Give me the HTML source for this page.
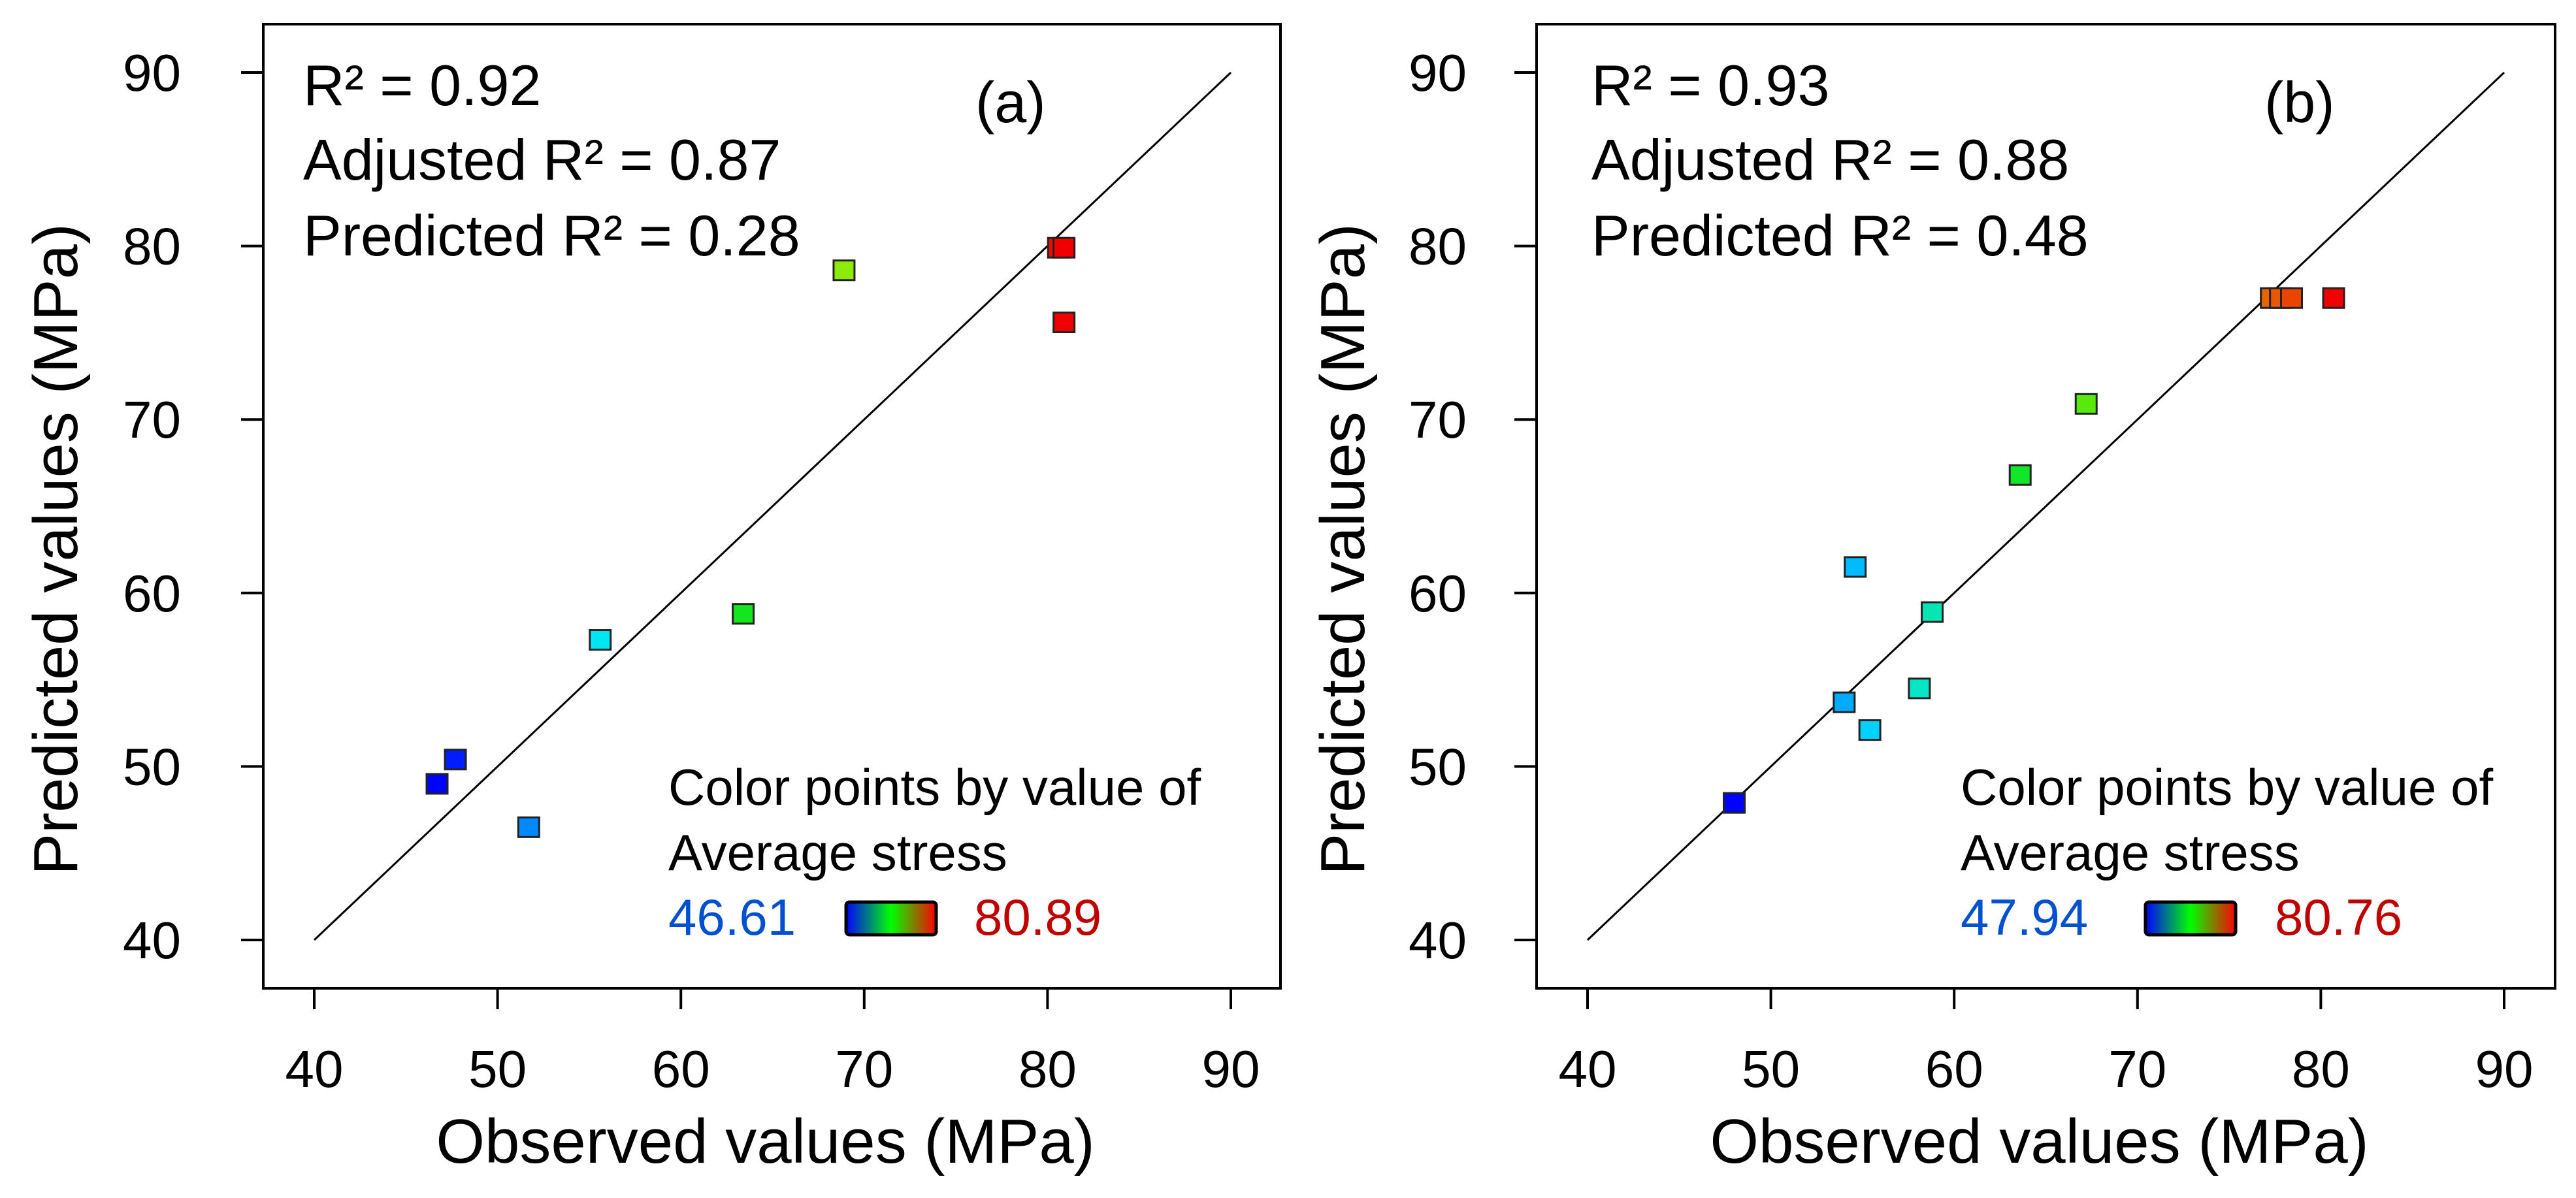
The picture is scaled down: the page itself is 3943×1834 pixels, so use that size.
<!DOCTYPE html>
<html><head><meta charset="utf-8"><style>
html,body{margin:0;padding:0;background:#fff;}
svg{display:block;font-family:"Liberation Sans",sans-serif;}
</style></head><body>
<svg id="chart" width="3943" height="1834" viewBox="0 0 3943 1834" xmlns="http://www.w3.org/2000/svg">
<defs>
<linearGradient id="cb" x1="0" x2="1" y1="0" y2="0">
<stop offset="0" stop-color="#0000ff"/><stop offset="0.5" stop-color="#00ff00"/><stop offset="1" stop-color="#ff0000"/>
</linearGradient>
</defs>
</svg>
<script>
const ticks = [40, 50, 60, 70, 80, 90];
const obsA = [46.7, 47.7, 51.7, 55.6, 63.4, 68.9, 80.6, 80.9, 80.9];
const predA = [49.0, 50.4, 46.5, 57.3, 58.8, 78.6, 79.9, 79.9, 75.6];
const obsB = [48.0, 54.0, 54.6, 55.4, 58.1, 58.8, 63.6, 67.2, 77.3, 77.8, 78.4, 80.7];
const predB = [47.9, 53.7, 61.5, 52.1, 54.5, 58.9, 66.8, 70.9, 77.0, 77.0, 77.0, 77.0];
const statsA = ["R\u00B2 = 0.92", "Adjusted R\u00B2 = 0.87", "Predicted R\u00B2 = 0.28"];
const statsB = ["R\u00B2 = 0.93", "Adjusted R\u00B2 = 0.88", "Predicted R\u00B2 = 0.48"];
const rangeA = [46.61, 80.89];
const rangeB = [47.94, 80.76];

const NS = "http://www.w3.org/2000/svg";
const svg = document.getElementById('chart');
function mk(tag, attrs, parent, text){
  const e = document.createElementNS(NS, tag);
  for (const k in attrs) e.setAttribute(k, attrs[k]);
  if (text !== undefined) e.textContent = text;
  (parent || svg).appendChild(e);
  return e;
}
function colorFor(v, r){
  let t = (v - r[0]) / (r[1] - r[0]); t = Math.max(0, Math.min(1, t));
  const stops = [[0,0,255],[0,230,255],[20,230,20],[220,240,0],[240,0,0]];
  const s = t * 4, i = Math.min(3, Math.floor(s)), u = s - i;
  const c = stops[i].map((a, k) => Math.round(a + (stops[i+1][k] - a) * u));
  return `rgb(${c[0]},${c[1]},${c[2]})`;
}
function panel(cfg){
  const g = mk('g', {});
  
  
  const xs = v => cfg.x40 + (v - 40) * (cfg.x90 - cfg.x40) / 50;
  const ys = v => 1439 + (v - 40) * (111 - 1439) / 50;
  const frame = mk('rect', {x: cfg.left, y: 37, width: cfg.right - cfg.left, height: 1513 - 37, fill: 'none', stroke: '#000', 'stroke-width': 4}, g);
  
  
  ticks.forEach(t => {
    const yt = mk('line', {x1: cfg.left - 34, x2: cfg.left, y1: ys(t), y2: ys(t), stroke: '#000', 'stroke-width': 4}, g);
    
    
    const yl = mk('text', {x: cfg.ylabX, y: ys(t) + 28, 'text-anchor': 'end', 'font-size': 80}, g, String(t));
    
    
    const xt = mk('line', {x1: xs(t), x2: xs(t), y1: 1513, y2: 1545, stroke: '#000', 'stroke-width': 4}, g);
    
    
    const xl = mk('text', {x: xs(t), y: 1664, 'text-anchor': 'middle', 'font-size': 80}, g, String(t));
    
    
  });
  const diag = mk('line', {x1: xs(40), y1: ys(40), x2: xs(90), y2: ys(90), stroke: '#000', 'stroke-width': 3}, g);
  
  
  cfg.obs.forEach((o, i) => {
    const p = mk('rect', {x: xs(o) - 16, y: ys(cfg.pred[i]) - 15, width: 32, height: 30, fill: colorFor(o, cfg.range), stroke: '#222', 'stroke-width': 3}, g);
    
    
  });
  const xt = mk('text', {x: (cfg.left + cfg.right)/2 - 10, y: 1780, 'text-anchor': 'middle', 'font-size': 96}, g, 'Observed values (MPa)');
  
  
  const yt = mk('text', {x: 0, y: 0, 'text-anchor': 'middle', 'font-size': 96, transform: `translate(${cfg.ytitleX},841) rotate(-90)`}, g, 'Predicted values (MPa)');
  
  
  cfg.stats.forEach((s, i) => {
    const st = mk('text', {x: cfg.annX, y: [161, 275, 391][i], 'font-size': 88}, g, s);
    
    
  });
  const lab = mk('text', {x: cfg.labX, y: 187, 'font-size': 88}, g, cfg.label);
  
  
  const l1 = mk('text', {x: cfg.legX, y: 1232, 'font-size': 78}, g, 'Color points by value of');
  
  
  const l2 = mk('text', {x: cfg.legX, y: 1332, 'font-size': 78}, g, 'Average stress');
  
  
  const lmin = mk('text', {x: cfg.legX, y: 1431, 'font-size': 78, fill: '#0050d0'}, g, cfg.range[0].toFixed(2));
  
  
  const bar = mk('rect', {x: cfg.cbX, y: 1381, width: 138, height: 50, rx: 5, fill: 'url(#cb)', stroke: '#000', 'stroke-width': 5}, g);
  
  
  const lmax = mk('text', {x: cfg.maxX, y: 1431, 'font-size': 78, fill: '#c00000'}, g, cfg.range[1].toFixed(2));
  
  
}
panel({name: 'panel-a', left: 403, right: 1960, x40: 481, x90: 1884, ylabX: 277, ytitleX: 118,
  annX: 464, labX: 1493, legX: 1023, cbX: 1295, maxX: 1491,
  obs: obsA, pred: predA, range: rangeA, stats: statsA, label: '(a)'});
panel({name: 'panel-b', left: 2352, right: 3911, x40: 2430, x90: 3833, ylabX: 2245, ytitleX: 2088,
  annX: 2436, labX: 3466, legX: 3001, cbX: 3284, maxX: 3482,
  obs: obsB, pred: predB, range: rangeB, stats: statsB, label: '(b)'});
</script>
</body></html>
